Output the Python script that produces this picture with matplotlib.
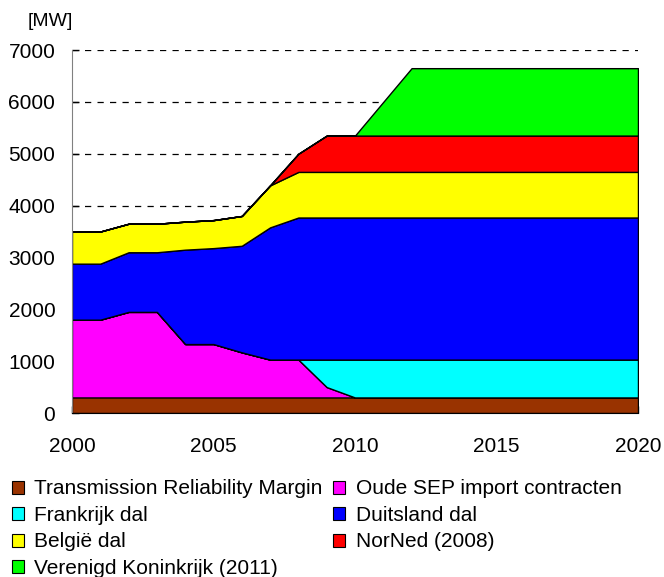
import matplotlib.pyplot as plt
from matplotlib.patches import Patch
from matplotlib.ticker import MultipleLocator

plt.rcParams['font.family'] = ['Liberation Sans', 'DejaVu Sans']

years = list(range(2000, 2021))

# capacity per category in MW (stacked, bottom to top)
trm = [300] * 21
sep = [1500, 1500, 1650, 1650, 1030, 1030, 870, 730, 730, 200] + [0] * 11
frankrijk = [0] * 9 + [530] + [730] * 11
duitsland = [1080, 1080, 1150, 1150, 1820, 1850, 2055, 2550] + [2740] * 13
belgie = [620, 620, 550, 550, 540, 540, 575, 810] + [880] * 13
norned = [0] * 8 + [350] + [700] * 12
uk = [0] * 11 + [650] + [1300] * 9

labels = ["Transmission Reliability Margin", "Oude SEP import contracten",
          "Frankrijk dal", "Duitsland dal", "België dal", "NorNed (2008)",
          "Verenigd Koninkrijk (2011)"]
colors = ["#993300", "#ff00ff", "#00ffff", "#0000ff", "#ffff00", "#ff0000", "#00ff00"]

fig = plt.figure(figsize=(6.64, 5.77), dpi=100)
ax = fig.add_axes([0.1084, 0.2842, 0.8524, 0.6291])

ax.stackplot(years, trm, sep, frankrijk, duitsland, belgie, norned, uk,
             colors=colors, edgecolor="black", linewidth=1, zorder=2)

ax.set_xlim(2000, 2020)
ax.set_ylim(0, 7000)
ax.xaxis.set_major_locator(MultipleLocator(5))
ax.xaxis.set_minor_locator(MultipleLocator(1))
ax.yaxis.set_major_locator(MultipleLocator(1000))
ax.tick_params(axis="both", which="both", direction="in", length=5, width=1,
               labelsize=15, pad=12)
ax.tick_params(axis="x", which="major", pad=17)

ax.grid(axis="y", color="black", linestyle=(0, (5, 5)), linewidth=0.9, zorder=0)
ax.set_axisbelow(True)

for s in ["top", "right"]:
    ax.spines[s].set_visible(False)
ax.spines["left"].set_color("#808080")
ax.spines["bottom"].set_color("black")
ax.spines["bottom"].set_zorder(3)

fig.text(0.041, 0.963, "[MW]", fontsize=14, va="center", ha="left")

# legend filled row-wise like the original
handles = [Patch(facecolor=c, edgecolor="black", linewidth=0.8) for c in colors]
order = [0, 2, 4, 6, 1, 3, 5]
fig.legend([handles[i] for i in order], [labels[i] for i in order],
           ncol=2, loc="upper left", bbox_to_anchor=(0.018, 0.169),
           frameon=False, fontsize=15, handlelength=0.58, handleheight=0.58,
           handletextpad=0.5, columnspacing=0.5, labelspacing=0.36,
           borderpad=0, borderaxespad=0)

plt.savefig("out.png", dpi=100)
plt.close(fig)
